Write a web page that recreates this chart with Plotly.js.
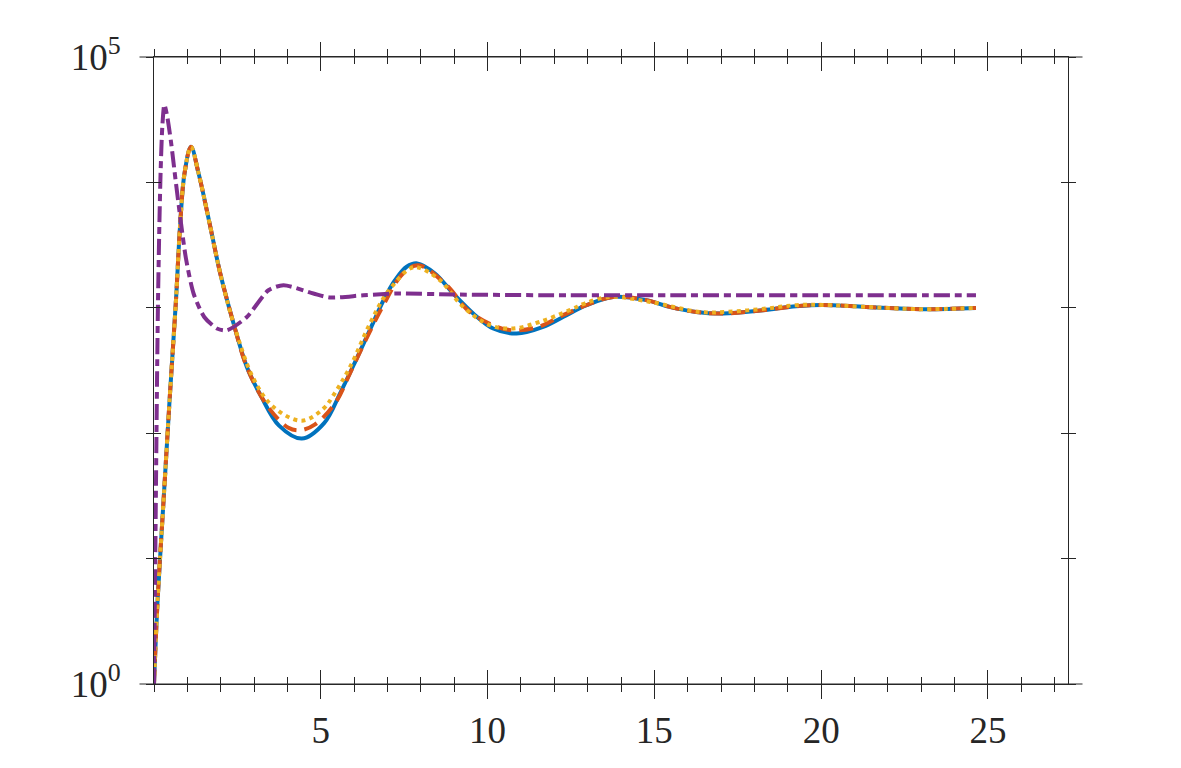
<!DOCTYPE html>
<html>
<head>
<meta charset="utf-8">
<script src="https://cdn.plot.ly/plotly-3.0.1.min.js"></script>
<style>html,body{margin:0;padding:0;background:#fff;}#chart{width:1181px;height:768px;}</style>
</head>
<body>
<div id="chart"></div>
<script>
// Data (x, log10 of y)
const blueX = [0, 0.108, 0.287, 0.467, 0.659, 0.787, 0.916, 1.108, 1.335, 1.665, 1.985, 2.383, 2.784, 3.2, 3.75, 4.431, 5.1, 5.6, 6.05, 6.5, 6.9, 7.225, 7.575, 7.892, 8.422, 8.970, 9.569, 10.168, 10.868, 11.665, 12.263, 12.964, 13.760, 14.760, 15.458, 16.257, 17.054, 18.251, 19.251, 20.039, 21.347, 23.033, 24.641];
const blueL = [0, 0.666, 1.464, 2.263, 3.061, 3.675, 4.074, 4.284, 4.074, 3.675, 3.276, 2.877, 2.528, 2.30, 2.06, 1.957, 2.08, 2.33, 2.58, 2.84, 3.07, 3.220, 3.327, 3.354, 3.274, 3.114, 2.955, 2.835, 2.795, 2.848, 2.927, 3.021, 3.087, 3.061, 3.007, 2.967, 2.955, 2.981, 3.013, 3.023, 3.007, 2.989, 2.999];

const orangeX = [0, 0.108, 0.287, 0.467, 0.659, 0.787, 0.916, 1.108, 1.335, 1.665, 1.985, 2.383, 2.784, 3.383, 4.03, 4.38, 4.83, 5.43, 5.878, 6.377, 6.874, 7.45, 7.92, 8.772, 9.47, 10.569, 11.467, 12.263, 12.964, 13.760, 14.760, 15.458, 16.257, 17.054, 18.251, 19.251, 20.039, 21.347, 23.033, 24.641];
const orangeL = [0, 0.666, 1.464, 2.263, 3.061, 3.675, 4.074, 4.284, 4.074, 3.675, 3.276, 2.877, 2.528, 2.223, 2.043, 2.023, 2.071, 2.239, 2.48, 2.76, 3.02, 3.27, 3.340, 3.180, 2.967, 2.827, 2.843, 2.941, 3.021, 3.087, 3.061, 3.007, 2.967, 2.955, 2.981, 3.013, 3.023, 3.007, 2.989, 2.999];

const yellowX = [0, 0.108, 0.287, 0.467, 0.659, 0.787, 0.916, 1.108, 1.335, 1.665, 1.985, 2.383, 2.98, 3.58, 4.43, 5.08, 5.377, 5.877, 6.476, 6.976, 7.674, 7.92, 8.572, 9.27, 10.07, 10.77, 11.566, 12.46, 12.91, 13.66, 14.87, 16.37, 17.16, 18.35, 19.25, 20.039, 21.347, 23.033, 24.641];
const yellowL = [0, 0.666, 1.464, 2.263, 3.061, 3.675, 4.074, 4.284, 4.074, 3.675, 3.276, 2.877, 2.436, 2.209, 2.100, 2.196, 2.302, 2.528, 2.875, 3.114, 3.314, 3.322, 3.220, 3.007, 2.861, 2.835, 2.888, 2.981, 3.034, 3.087, 3.047, 2.967, 2.967, 2.994, 3.021, 3.023, 3.007, 2.989, 2.999];

const purpleX = [0, 0.03, 0.06, 0.09, 0.12, 0.16, 0.20, 0.25, 0.31, 0.389, 0.509, 0.659, 0.808, 0.958, 1.186, 1.506, 1.886, 2.186, 2.784, 3.431, 3.88, 4.78, 5.28, 6.276, 7.275, 9.0, 12.0, 16.0, 20.0, 24.641];
const purpleL = [0, 0.8, 1.6, 2.4, 3.05, 3.65, 4.1, 4.45, 4.62, 4.537, 4.324, 3.992, 3.678, 3.393, 3.114, 2.927, 2.835, 2.821, 2.927, 3.140, 3.180, 3.114, 3.082, 3.100, 3.114, 3.106, 3.100, 3.100, 3.100, 3.100];

const xMajorTicks = [5, 10, 15, 20, 25];
const xMajorLabels = ['5', '10', '15', '20', '25'];
const yLabelVals = [1, 100000];
const yLabelText = ['10<sup>0</sup>', '10<sup>5</sup>'];
const yDecadeVals = [1, 10, 100, 1000, 10000, 100000];

const pow = a => a.map(v => Math.pow(10, v));
const axisCol = '#262626';
const fontFam = 'Liberation Serif, serif';

const traces = [
  {x: blueX, y: pow(blueL), mode: 'lines', line: {color: '#0072BD', width: 4, shape: 'spline', smoothing: 1}},
  {x: orangeX, y: pow(orangeL), mode: 'lines', line: {color: '#D95319', width: 4, dash: '14px,8px', shape: 'spline', smoothing: 1}},
  {x: yellowX, y: pow(yellowL), mode: 'lines', line: {color: '#EDB120', width: 4, dash: '4px,4.3px', shape: 'spline', smoothing: 1}},
  {x: purpleX, y: pow(purpleL), mode: 'lines', line: {color: '#7E2F8E', width: 4, dash: '16px,5px,7px,5px', shape: 'spline', smoothing: 0.7}},
  {x: [null], y: [null], xaxis: 'x2', yaxis: 'y', mode: 'lines', hoverinfo: 'skip'},
  {x: [null], y: [null], xaxis: 'x', yaxis: 'y2', mode: 'lines', hoverinfo: 'skip'},
  {x: [null], y: [null], xaxis: 'x', yaxis: 'y3', mode: 'lines', hoverinfo: 'skip'}
];

const xr = [0, 27.4];
const yr = [0, 5];
const ext = 14.5 / 914;

const layout = {
  width: 1181, height: 768,
  margin: {l: 154, r: 113, t: 57, b: 84, pad: 0},
  paper_bgcolor: '#fff', plot_bgcolor: '#fff',
  showlegend: false,
  font: {family: fontFam, color: axisCol, size: 37},
  xaxis: {
    range: xr, showgrid: false, zeroline: false,
    showline: true, linecolor: axisCol, linewidth: 1, mirror: 'ticks',
    tickmode: 'array', tickvals: xMajorTicks, ticktext: xMajorLabels,
    ticks: 'outside', ticklen: 14, tickwidth: 1, tickcolor: axisCol,
    minor: {tickmode: 'linear', tick0: 0, dtick: 1, ticks: 'outside', ticklen: 7, tickwidth: 1, tickcolor: axisCol, showgrid: false},
    tickfont: {family: fontFam, size: 37, color: axisCol},
    ticklabelstandoff: 0
  },
  xaxis2: {
    range: xr, overlaying: 'x', anchor: 'y', showgrid: false, zeroline: false,
    showline: false, mirror: 'ticks', showticklabels: false,
    tickmode: 'array', tickvals: xMajorTicks,
    ticks: 'inside', ticklen: 14, tickwidth: 1, tickcolor: axisCol,
    minor: {tickmode: 'linear', tick0: 0, dtick: 1, ticks: 'inside', ticklen: 7, tickwidth: 1, tickcolor: axisCol, showgrid: false}
  },
  yaxis: {
    type: 'log', range: yr, showgrid: false, zeroline: false,
    showline: true, linecolor: axisCol, linewidth: 1, mirror: 'ticks',
    tickmode: 'array', tickvals: yLabelVals, ticktext: yLabelText,
    ticks: 'outside', ticklen: 7, tickwidth: 1, tickcolor: axisCol,
    tickfont: {family: fontFam, size: 37, color: axisCol},
    ticklabelstandoff: 18
  },
  yaxis2: {
    type: 'log', range: yr, overlaying: 'y', anchor: 'x', side: 'left', showgrid: false, zeroline: false,
    showline: false, mirror: 'ticks', showticklabels: false,
    tickmode: 'array', tickvals: yDecadeVals,
    ticks: 'outside', ticklen: 7, tickwidth: 1, tickcolor: axisCol
  },
  yaxis3: {
    type: 'log', range: yr, overlaying: 'y', anchor: 'x', side: 'left', showgrid: false, zeroline: false,
    showline: false, mirror: 'ticks', showticklabels: false,
    tickmode: 'array', tickvals: yDecadeVals,
    ticks: 'inside', ticklen: 7, tickwidth: 1, tickcolor: axisCol
  },
  shapes: [
    {type: 'line', xref: 'paper', yref: 'paper', x0: -ext, x1: 1 + ext, y0: 0, y1: 0, line: {color: axisCol, width: 1}},
    {type: 'line', xref: 'paper', yref: 'paper', x0: -ext, x1: 1 + ext, y0: 1, y1: 1, line: {color: axisCol, width: 1}}
  ]
};

Plotly.newPlot('chart', traces, layout, {displayModeBar: false, staticPlot: true});
</script>
</body>
</html>
